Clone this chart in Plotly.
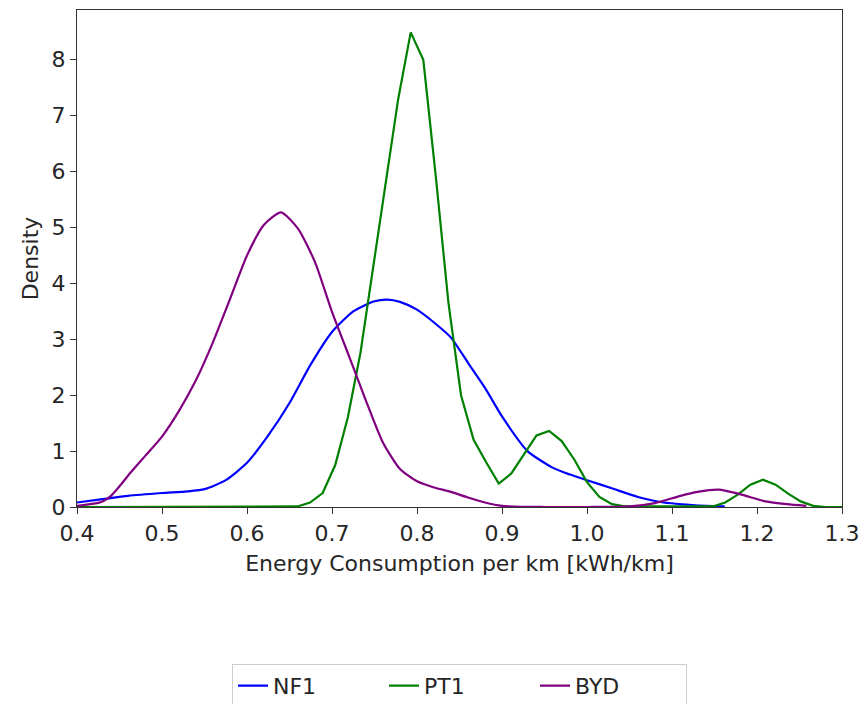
import plotly.graph_objects as go

# Kernel density estimates of energy consumption per km for three bus types
nf1_x = [0.40, 0.43, 0.46, 0.50, 0.53, 0.55, 0.575, 0.60, 0.625, 0.65, 0.675, 0.70,
         0.725, 0.75, 0.765, 0.78, 0.80, 0.82, 0.84, 0.86, 0.88, 0.90, 0.93, 0.96,
         0.98, 1.00, 1.03, 1.06, 1.09, 1.12, 1.14, 1.162]
nf1_y = [0.08, 0.14, 0.20, 0.25, 0.28, 0.32, 0.48, 0.79, 1.28, 1.86, 2.55, 3.13,
         3.50, 3.68, 3.71, 3.67, 3.53, 3.30, 3.03, 2.58, 2.13, 1.62, 1.00, 0.70,
         0.58, 0.48, 0.33, 0.18, 0.08, 0.04, 0.02, 0.01]

pt1_x = [0.40, 0.6446, 0.6594, 0.6742, 0.689, 0.7038, 0.7186, 0.7334, 0.7482, 0.763,
         0.7778, 0.7926, 0.8074, 0.8222, 0.837, 0.8518, 0.8666, 0.8814, 0.8962, 0.911,
         0.9258, 0.9406, 0.9554, 0.9702, 0.985, 0.9998, 1.0146, 1.0294, 1.0442, 1.1478,
         1.1626, 1.1774, 1.1922, 1.207, 1.2218, 1.2366, 1.2514, 1.2662, 1.281, 1.30]
pt1_y = [0.0, 0.0, 0.01, 0.08, 0.25, 0.75, 1.6, 2.75, 4.25, 5.8,
         7.29, 8.49, 8.0, 5.9, 3.65, 2.0, 1.2, 0.8, 0.42, 0.6,
         0.95, 1.28, 1.36, 1.18, 0.85, 0.45, 0.18, 0.05, 0.01, 0.01,
         0.08, 0.22, 0.4, 0.49, 0.4, 0.24, 0.1, 0.02, 0.0, 0.0]

byd_x = [0.40, 0.42, 0.43, 0.44, 0.45, 0.46, 0.48, 0.50, 0.52, 0.54, 0.56, 0.58,
         0.60, 0.62, 0.64, 0.66, 0.68, 0.70, 0.72, 0.74, 0.76, 0.78, 0.80, 0.82,
         0.84, 0.86, 0.88, 0.90, 0.95, 1.00, 1.05, 1.08, 1.11, 1.13, 1.155, 1.18,
         1.21, 1.235, 1.258]
byd_y = [0.02, 0.06, 0.10, 0.20, 0.37, 0.56, 0.91, 1.26, 1.72, 2.27, 2.95, 3.72,
         4.5, 5.05, 5.27, 4.98, 4.38, 3.49, 2.70, 1.90, 1.15, 0.68, 0.46, 0.35,
         0.27, 0.17, 0.08, 0.02, 0.0, 0.0, 0.01, 0.07, 0.2, 0.27, 0.31, 0.23,
         0.1, 0.05, 0.02]

x_ticks = [0.4, 0.5, 0.6, 0.7, 0.8, 0.9, 1.0, 1.1, 1.2, 1.3]
y_ticks = [0, 1, 2, 3, 4, 5, 6, 7, 8]

FONT = "DejaVu Sans"
TXT = "#262626"
FS = 22

fig = go.Figure()
fig.add_trace(go.Scatter(x=nf1_x, y=nf1_y, name="NF1", mode="lines",
                         line=dict(color="#0000ff", width=2.2, shape="spline", smoothing=0.6)))
fig.add_trace(go.Scatter(x=pt1_x, y=pt1_y, name="PT1", mode="lines",
                         line=dict(color="#008000", width=2.2)))
fig.add_trace(go.Scatter(x=byd_x, y=byd_y, name="BYD", mode="lines",
                         line=dict(color="#800080", width=2.2, shape="spline", smoothing=0.6)))

axis_common = dict(
    showgrid=False, zeroline=False, showline=True, mirror=True,
    linecolor="#333333", linewidth=1.2,
    ticks="outside", ticklen=6, tickwidth=1.2, tickcolor="#333333",
    tickfont=dict(family=FONT, size=FS, color=TXT),
    layer="below traces", automargin=False,
)

fig.update_xaxes(range=[0.4, 1.3], tickvals=x_ticks,
                 ticktext=[f"{v:.1f}" for v in x_ticks],
                 title=dict(text="Energy Consumption per km [kWh/km]",
                            font=dict(family=FONT, size=FS, color=TXT), standoff=11),
                 **axis_common)
fig.update_yaxes(range=[0, 8.89], tickvals=y_ticks,
                 title=dict(text="Density", font=dict(family=FONT, size=FS, color=TXT),
                            standoff=6),
                 **axis_common)

fig.update_layout(
    width=860, height=704,
    margin=dict(l=77, r=18, t=10, b=197),
    paper_bgcolor="white", plot_bgcolor="white",
    font=dict(family=FONT, size=FS, color=TXT),
    showlegend=True,
    legend=dict(orientation="h", x=0.5, xanchor="center",
                yref="container", y=0.057, yanchor="top",
                bordercolor="#cccccc", borderwidth=1, bgcolor="white",
                font=dict(family=FONT, size=FS, color=TXT),
                entrywidth=106, entrywidthmode="pixels"),
)

fig.write_html("out.html")
